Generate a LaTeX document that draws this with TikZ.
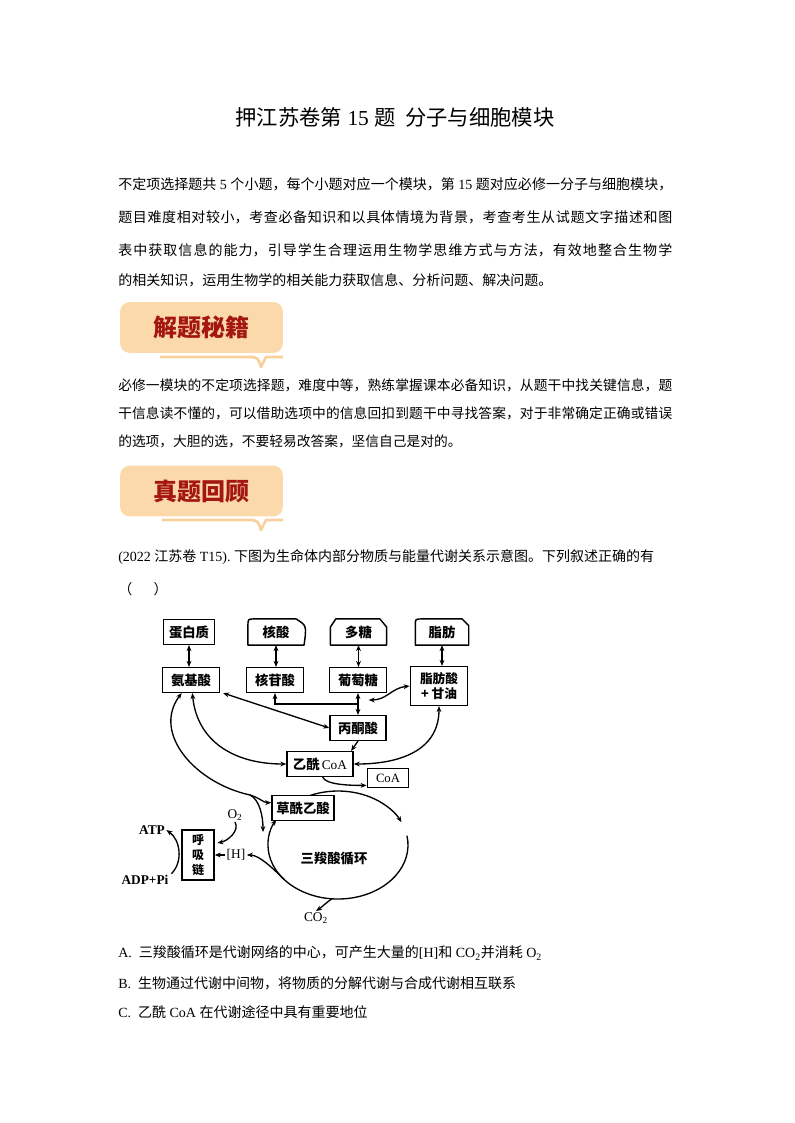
\documentclass[tikz,border=0pt]{standalone}
\usepackage{fontspec}
\setmainfont{Liberation Serif}
\newfontfamily\cjk{Noto Sans CJK SC}
\usetikzlibrary{arrows.meta,calc}
\XeTeXlinebreaklocale "zh"
\XeTeXlinebreakskip=0pt plus 2pt
\setlength{\parindent}{0pt}

\definecolor{bannerfill}{RGB}{251,217,170}
\definecolor{bannertail}{RGB}{249,208,156}
\definecolor{bannerred}{RGB}{163,22,18}

% one justified line of body text
\newcommand{\fullline}[1]{\parfillskip=0pt\relax #1\par}

\tikzset{
  textline/.style={anchor=west, inner sep=0pt, font=\cjk\fontsize{10.5}{12}\selectfont},
  jline/.style={textline, text width=415.5pt, align=justify},
  banner/.style={fill=bannerfill, rounded corners=7pt, minimum width=122pt, minimum height=38pt,
    text=bannerred, font=\cjk\bfseries\fontsize{18}{20}\selectfont},
  bannertail/.style={draw=bannertail, line width=2pt, line join=round},
  box/.style={draw, line width=1.1pt, fill=white, minimum width=43pt, minimum height=18.5pt,
    inner sep=2pt, font=\cjk\bfseries\fontsize{10}{12}\selectfont},
  tagtext/.style={box, draw=none, fill=none},
  boxline/.style={line width=1.1pt, line join=round},
  lbl/.style={inner sep=1pt, font=\rmfamily\bfseries\fontsize{10}{12}\selectfont},
  conn/.style={line width=1pt},
}

\begin{document}
\begin{tikzpicture}[x=0.75pt, y=-0.75pt, >={Stealth[length=4.5pt,width=3.6pt]}]
\useasboundingbox (0,0) rectangle (794,1123);

% heading and text
\node[font=\cjk\fontsize{16}{19}\selectfont] (title) at (395,117) {押江苏卷第{\rmfamily\ 15\ }题\ \ 分子与细胞模块};

\node[jline] (p1a) at (118,184) {\fullline{不定项选择题共{\rmfamily\ 5\ }个小题，每个小题对应一个模块，第{\rmfamily\ 15\ }题对应必修一分子与细胞模块，}};
\node[jline] (p1b) at (118,217) {\fullline{题目难度相对较小，考查必备知识和以具体情境为背景，考查考生从试题文字描述和图}};
\node[jline] (p1c) at (118,250) {\fullline{表中获取信息的能力，引导学生合理运用生物学思维方式与方法，有效地整合生物学}};
\node[textline] (p1d) at (118,280) {的相关知识，运用生物学的相关能力获取信息、分析问题、解决问题。};

\node[banner] (tips) at (201.5,327.5) {解题秘籍};
\draw[bannertail] (160,357) -- (252,357) .. controls (258,358) .. (261,367) -- (266,357) -- (283,357);

\node[jline, font=\cjk\fontsize{10.3}{12}\selectfont] (p2a) at (118,385) {\fullline{必修一模块的不定项选择题，难度中等，熟练掌握课本必备知识，从题干中找关键信息，题}};
\node[jline, font=\cjk\fontsize{10.3}{12}\selectfont] (p2b) at (118,413) {\fullline{干信息读不懂的，可以借助选项中的信息回扣到题干中寻找答案，对于非常确定正确或错误}};
\node[textline, font=\cjk\fontsize{10.3}{12}\selectfont] (p2c) at (118,441) {的选项，大胆的选，不要轻易改答案，坚信自己是对的。};

\node[banner] (review) at (201.5,491) {真题回顾};
\draw[bannertail] (162,520) -- (252,520) .. controls (258,521) .. (261,530) -- (266,520) -- (283,520);

\node[textline] (q1) at (118,557) {{\rmfamily (2022\ }江苏卷{\rmfamily\ T15).\ }下图为生命体内部分物质与能量代谢关系示意图。下列叙述正确的有};
\node[textline] (q2) at (118,589) {（\hspace{16pt}）};

\node[textline] (optA) at (118,953) {{\rmfamily A.\ \ }三羧酸循环是代谢网络的中心，可产生大量的{\rmfamily [H]}和{\rmfamily\ CO\textsubscript{2}}并消耗{\rmfamily\ O\textsubscript{2}}};
\node[textline] (optB) at (118,983) {{\rmfamily B.\ \ }生物通过代谢中间物，将物质的分解代谢与合成代谢相互联系};
\node[textline] (optC) at (118,1012) {{\rmfamily C.\ \ }乙酰{\rmfamily\ CoA\ }在代谢途径中具有重要地位};

% cycle
\coordinate (tcac) at (338,845);
\draw[conn, ->] ($(tcac)+(-118:70 and 54)$) arc[start angle=-118, end angle=-25, x radius=70, y radius=54];
\draw[conn, ->] ($(tcac)+(-10:70 and 54)$) arc[start angle=-10, end angle=208, x radius=70, y radius=54];
\coordinate (hout) at ($(tcac)+(140:70 and 54)$);
\coordinate (cout) at ($(tcac)+(95:70 and 54)$);

% boxes
\node[box, minimum width=38pt] (dbz) at (189,632) {蛋白质};
\node[tagtext, minimum width=41pt] (ks) at (276,632) {核酸};
\node[tagtext, minimum width=41pt] (dt) at (358.5,632) {多糖};
\node[tagtext, minimum width=39pt] (zf) at (442,632) {脂肪};
\draw[boxline] (ks.south west) -- ([yshift=-5pt]ks.north west) .. controls (ks.north west) .. ([xshift=5pt]ks.north west)
  -- ([xshift=-6pt]ks.north east) .. controls ([xshift=2pt,yshift=-5pt]ks.north east) .. (ks.south east) -- cycle;
\draw[boxline] (dt.south west) -- ([yshift=-6pt]dt.north west) -- ([xshift=4pt]dt.north west)
  -- ([xshift=-5pt]dt.north east) -- ([yshift=-6pt]dt.north east) -- (dt.south east) -- cycle;
\draw[boxline] (zf.south west) -- ([yshift=-5pt]zf.north west) .. controls (zf.north west) .. ([xshift=5pt]zf.north west)
  -- ([xshift=-5pt]zf.north east) -- ([yshift=-5pt]zf.north east) -- (zf.south east) -- cycle;

\node[box] (ajs) at (191,680) {氨基酸};
\node[box] (hgs) at (275,680) {核苷酸};
\node[box] (ptt) at (358,680) {葡萄糖};
\node[box, align=center, minimum height=29pt, font=\cjk\bfseries\fontsize{9.5}{11}\selectfont] (zfs) at (439,686) {脂肪酸\\+ 甘油};
\node[box, minimum width=42pt] (bts) at (358,728) {丙酮酸};
\node[box, minimum width=49.5pt] (yx) at (320,764) {乙酰\,{\rmfamily\mdseries CoA}};
\node[box, minimum width=31pt, minimum height=14pt, font=\rmfamily\fontsize{9.5}{11}\selectfont] (coa) at (388,778) {CoA};
\node[box, minimum width=46.5pt] (cxy) at (303,808) {草酰乙酸};
\node[box, align=center, minimum width=24pt, minimum height=37.5pt, font=\cjk\bfseries\fontsize{9}{11}\selectfont] (hxl) at (198,855) {呼\\吸\\链};

\node[lbl] (atp) at (152,830) {ATP};
\node[lbl] (adp) at (145,880) {ADP+Pi};
\node[lbl, font=\rmfamily\fontsize{10}{12}\selectfont] (o2) at (235,815) {O\textsubscript{2}};
\node[lbl, font=\rmfamily\fontsize{10}{12}\selectfont] (hh) at (236,855) {[H]};
\node[lbl, font=\rmfamily\fontsize{10}{12}\selectfont] (co2) at (316,918) {CO\textsubscript{2}};
\node[font=\cjk\bfseries\fontsize{10}{12}\selectfont] (tca) at (334,858) {三羧酸循环};

% connectors
\draw[conn, <->] (dbz.south) -- (dbz.south |- ajs.north);
\draw[conn, <->] (ks.south) -- (ks.south |- hgs.north);
\draw[conn, <->] (dt.south) -- (dt.south |- ptt.north);
\draw[conn, <->] (zf.south) -- (zf.south |- zfs.north);
\draw[conn, <->] (ptt.south) -- (ptt.south |- bts.north);
\coordinate (junc) at ($(ptt.south)!0.5!(ptt.south |- bts.north)$);
\coordinate (juncr) at ([xshift=8pt,yshift=3pt]junc);
\draw[conn, ->] (junc) -| (hgs.south);
\draw[conn, <->] (zfs.west) .. controls +(-18,2) and +(18,0) .. (juncr);
\draw[conn, <->] ([xshift=2pt]ajs.south east) -- (bts.west);
\draw[conn, ->] (bts.south) -- ([xshift=-2pt]yx.north east);
\draw[conn, <->] (zfs.south) .. controls +(0,45) and +(45,0) .. (yx.east);
\draw[conn, <->] ([xshift=1pt]ajs.south) .. controls +(5,50) and +(-50,0) .. (yx.west);

\coordinate (fork) at (250,795);
\coordinate (aain) at (263,832);
\draw[conn, <-] ([xshift=-7pt]ajs.south) .. controls +(-30,40) and +(-55,-12) .. (fork);
\draw[conn, ->] (fork) .. controls +(10,3) and +(-8,0) .. ([yshift=4pt]cxy.west);
\draw[conn, ->] (fork) .. controls +(10,5) and +(0,-15) .. (aain);

\draw[conn, ->] ([xshift=2pt]yx.south) .. controls +(3,8) and +(-15,0) .. ([yshift=2pt]coa.south west);
\draw[conn, ->] (cout) .. controls +(-6,4) and +(6,-4) .. (co2.north);
\draw[conn, ->] (hout) .. controls +(-12,-12) and +(12,0) .. (hh.east);
\draw[conn, ->] (hh.west) -- (hxl.east);
\draw[conn, ->] (o2.south) .. controls +(5,9) and +(10,-2) .. ([xshift=2pt,yshift=9pt]hxl.east);
\draw[conn, ->] ([xshift=1pt]adp.north east) .. controls +(12,-12) and +(14,10) .. (atp.east);
\end{tikzpicture}
\end{document}
